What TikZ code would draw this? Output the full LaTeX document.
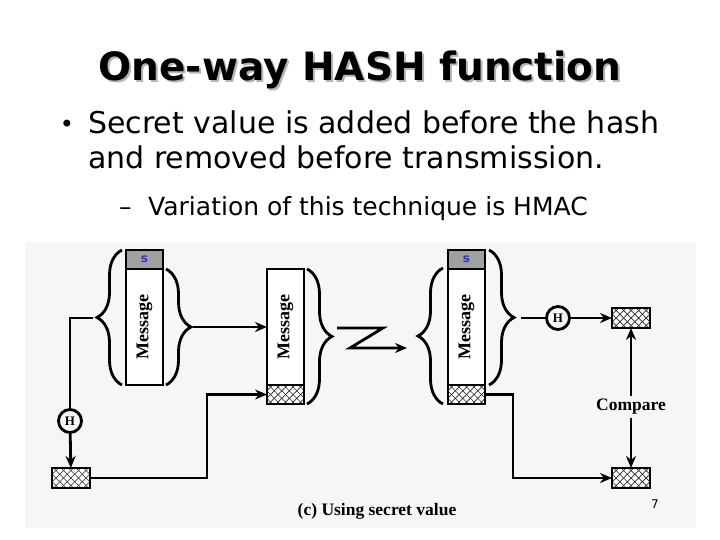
\documentclass[tikz,border=0pt]{standalone}
\usepackage{fontspec}
\setmainfont{DejaVu Sans}
\newfontfamily\figfont{Liberation Serif}
\usetikzlibrary{decorations.pathreplacing,arrows.meta,calc}
\definecolor{figbg}{HTML}{F6F6F6}
\definecolor{sgray}{HTML}{A0A0A0}
\definecolor{sblue}{HTML}{3333CC}
\definecolor{shadowgray}{HTML}{B4B4B4}
\begin{document}
\begin{tikzpicture}[x=1pt,y=-1pt,
  lw/.style={line width=2.8pt},
  box/.style={draw, lw, minimum width=37pt, inner sep=0pt, anchor=north west, outer sep=0pt},
  sband/.style={box, fill=sgray, minimum height=19pt, font=\bfseries\fontsize{12}{12}\selectfont, text=sblue},
  msgbox/.style={box, fill=white, minimum height=116pt},
  hatch/.style={draw, lw, fill=white, inner sep=0pt, outer sep=0pt,
    path picture={
      \foreach \k in {-9,...,9} {
        \draw[line width=0.7pt, black!85] ($(path picture bounding box.center)+(\k*7.5pt,0pt)$) ++(-20pt,-20pt) -- ++(40pt,40pt);
        \draw[line width=0.7pt, black!85] ($(path picture bounding box.center)+(\k*7.5pt,0pt)$) ++(-20pt,20pt) -- ++(40pt,-40pt);
      }}},
  hbox/.style={hatch, minimum width=38pt, minimum height=20pt},
  msgtext/.style={rotate=90, font=\figfont\bfseries\fontsize{18}{18}\selectfont},
  hcirc/.style={circle, draw, lw, fill=figbg, minimum size=23pt, inner sep=0pt, font=\figfont\bfseries\fontsize{13}{13}\selectfont},
  brc/.style={decorate, lw, decoration={brace, amplitude=25pt, aspect=0.5}},
  arr/.style={lw, -{Stealth[length=12pt,width=10pt]}},
  ln/.style={lw},
  figlabel/.style={font=\figfont\bfseries\fontsize{17.5}{17.5}\selectfont}
]
\useasboundingbox (0,0) rectangle (720,540);
\fill[white] (0,0) rectangle (720,540);

% ---- slide text ----
\node[anchor=base, text=shadowgray, font=\bfseries\fontsize{39}{39}\selectfont] (titleshadow) at (362,83) {One-way HASH function};
\node[anchor=base, font=\bfseries\fontsize{39}{39}\selectfont] (title) at (360,81) {One-way HASH function};
\node[anchor=base, font=\fontsize{24}{24}\selectfont] (bul) at (67,133) {•};
\node[anchor=base west, inner sep=0pt, font=\fontsize{30}{30}\selectfont] (l1) at (88,134) {Secret value is added before the hash};
\node[anchor=base west, inner sep=0pt, font=\fontsize{30}{30}\selectfont] (l2) at (88,169) {and removed before transmission.};
\node[anchor=base west, inner sep=0pt, font=\fontsize{25}{25}\selectfont] (dash) at (119,215) {–};
\node[anchor=base west, inner sep=0pt, font=\fontsize{25}{25}\selectfont] (l3) at (148,215) {Variation of this technique is HMAC};

% ---- figure ----
\fill[figbg] (25,242) rectangle (696,528);

% left (sender) block
\node[sband] (s1) at (126,250) {s};
\node[msgbox] (m1) at (126,269) {};
\node[msgtext] (m1t) at (m1.center) {Message};

% middle (transmitted) block
\node[msgbox] (m2) at (267,269) {};
\node[msgtext] (m2t) at (m2.center) {Message};
\node[hatch, minimum width=37pt, minimum height=19pt, anchor=north west] (h2) at (267,385) {};

% right (receiver) block
\node[sband] (s3) at (448,250) {s};
\node[msgbox] (m3) at (448,269) {};
\node[msgtext] (m3t) at (m3.center) {Message};
\node[hatch, minimum width=37pt, minimum height=19pt, anchor=north west] (h3) at (448,385) {};

% braces
\draw[brc] (122,385) -- (122,250);
\draw[brc] (166,269) -- (166,385);
\draw[brc] (307,269) -- (307,404);
\draw[brc] (443,404) -- (443,268);
\draw[brc] (489,250) -- (489,385);

% hash circles and hash boxes
\node[hcirc] (H1) at (70,421) {H};
\node[hbox] (hb1) at (71,478) {};
\node[hcirc] (H2) at (558,318) {H};
\node[hbox] (hr1) at (631,318) {};
\node[hbox] (hr2) at (631,478) {};
\node[figlabel] (cmp) at (631,407) {Compare};

% connectors
\coordinate (t1) at (93,318);
\draw[ln] (t1) -| (H1);
\draw[arr] (H1) -- (hb1);
\coordinate (x1) at (207,440);
\draw[arr] (hb1) -| (x1) |- (h2);
\coordinate (t2) at (193,327);
\draw[arr] (t2) -- (m2);

\coordinate (z0) at (337,328);
\coordinate (z1) at (383,328);
\coordinate (z2) at (350,348);
\coordinate (z3) at (407,348);
\draw[arr, line join=miter] (z0) -- (z1) -- (z2) -- (z3);

\coordinate (t3) at (521,318);
\draw[ln] (t3) -- (H2);
\draw[arr] (H2) -- (hr1);
\draw[arr] (cmp) -- (hr1);
\draw[arr] (cmp) -- (hr2);
\coordinate (x2) at (513,430);
\draw[arr] (h3) -| (x2) |- (hr2);

% caption and page number
\node[figlabel, anchor=base] (cap) at (377,515) {(c) Using secret value};
\node[anchor=base, font=\fontsize{12}{12}\selectfont] (pg) at (655,508) {7};
\end{tikzpicture}
\end{document}
